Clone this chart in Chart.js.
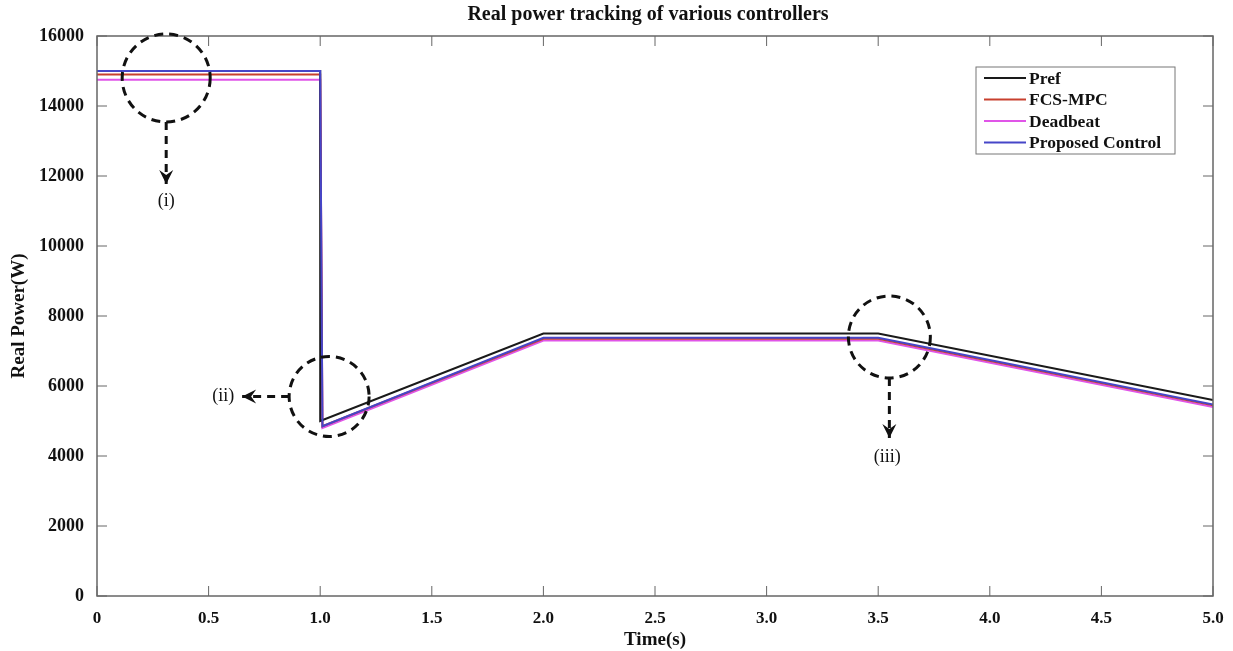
<!DOCTYPE html>
<html lang="en">
<head>
    <meta charset="UTF-8">
    <title>Real power tracking of various controllers</title>
    <script src="https://cdn.jsdelivr.net/npm/chart.js"></script>
    <style>
        body {
            margin: 0;
            padding: 0;
            background-color: #fff;
        }
        #wrap {
            width: 1233px;
            height: 651px;
        }
    </style>
</head>
<body>
    <div id="wrap"><canvas id="myChart" width="1233" height="651"></canvas></div>

    <script>
        // data
        const prefTime = [0, 1.0, 1.0, 2.0, 3.5, 5.0];
        const prefPower = [15000, 15000, 5000, 7500, 7500, 5600];

        const fcsTime = [0, 1.0, 1.01, 2.0, 3.5, 5.0];
        const fcsPower = [14900, 14900, 4850, 7350, 7350, 5450];

        const deadbeatTime = [0, 1.0, 1.01, 2.0, 3.5, 5.0];
        const deadbeatPower = [14750, 14750, 4800, 7300, 7300, 5400];

        const proposedTime = [0, 1.0, 1.01, 2.0, 3.5, 5.0];
        const proposedPower = [15000, 15000, 4850, 7380, 7380, 5470];

        const xTicks = [0, 0.5, 1.0, 1.5, 2.0, 2.5, 3.0, 3.5, 4.0, 4.5, 5.0];
        const yTicks = [0, 2000, 4000, 6000, 8000, 10000, 12000, 14000, 16000];

        // dashed circles: centre (time, power), radius in px
        const circles = [
            { t: 0.31, p: 14800, r: 44 },
            { t: 1.04, p: 5700, r: 40 },
            { t: 3.55, p: 7400, r: 41 }
        ];

        const serif = "'Liberation Serif', 'Times New Roman', serif";

        function pts(t, p) {
            return t.map((v, i) => ({ x: v, y: p[i] }));
        }

        const datasets = [
            { label: 'Pref', data: pts(prefTime, prefPower), borderColor: '#1a1a1a', order: 1 },
            { label: 'FCS-MPC', data: pts(fcsTime, fcsPower), borderColor: '#c8402e', order: 2 },
            { label: 'Deadbeat', data: pts(deadbeatTime, deadbeatPower), borderColor: '#e055e8', order: 3 },
            { label: 'Proposed Control', data: pts(proposedTime, proposedPower), borderColor: '#4646c8', order: 0 }
        ];
        datasets.forEach(d => {
            d.borderWidth = 2;
            d.pointRadius = 0;
            d.fill = false;
            d.tension = 0;
        });

        // frame, inward ticks, legend, annotations
        const decor = {
            id: 'decor',
            afterDraw(chart) {
                const c = chart.ctx;
                const a = chart.chartArea;
                const xs = chart.scales.x, ys = chart.scales.y;
                c.save();

                // title
                c.fillStyle = '#111';
                c.font = 'bold 20px ' + serif;
                c.textAlign = 'center';
                c.textBaseline = 'middle';
                c.fillText('Real power tracking of various controllers', 648, 15);

                // box + ticks
                c.strokeStyle = '#666';
                c.lineWidth = 1.5;
                c.strokeRect(a.left, a.top, a.right - a.left, a.bottom - a.top);
                c.lineWidth = 1;
                xTicks.forEach(v => {
                    const x = xs.getPixelForValue(v);
                    c.beginPath();
                    c.moveTo(x, a.bottom); c.lineTo(x, a.bottom - 10);
                    c.moveTo(x, a.top); c.lineTo(x, a.top + 10);
                    c.stroke();
                });
                yTicks.forEach(v => {
                    const y = ys.getPixelForValue(v);
                    c.beginPath();
                    c.moveTo(a.left, y); c.lineTo(a.left + 10, y);
                    c.moveTo(a.right, y); c.lineTo(a.right - 10, y);
                    c.stroke();
                });

                // legend
                const lx = 976, ly = 67, lw = 199, lh = 87;
                c.fillStyle = '#fff';
                c.fillRect(lx, ly, lw, lh);
                c.strokeStyle = '#777';
                c.lineWidth = 1;
                c.strokeRect(lx, ly, lw, lh);
                c.font = 'bold 17.5px ' + serif;
                c.textAlign = 'left';
                datasets.forEach((d, i) => {
                    const y = ly + 11 + i * 21.5;
                    c.strokeStyle = d.borderColor;
                    c.lineWidth = 2;
                    c.beginPath();
                    c.moveTo(lx + 8, y); c.lineTo(lx + 50, y);
                    c.stroke();
                    c.fillStyle = '#111';
                    c.fillText(d.label, lx + 53, y + 1);
                });

                // dashed circles
                c.strokeStyle = '#111';
                c.lineWidth = 3;
                c.setLineDash([9, 6]);
                const cp = circles.map(o => ({ x: xs.getPixelForValue(o.t), y: ys.getPixelForValue(o.p), r: o.r }));
                cp.forEach(o => {
                    c.beginPath();
                    c.arc(o.x, o.y, o.r, 0, Math.PI * 2);
                    c.stroke();
                });

                // dashed arrows
                function arrow(x1, y1, x2, y2) {
                    c.setLineDash([8, 6]);
                    c.beginPath();
                    c.moveTo(x1, y1); c.lineTo(x2, y2);
                    c.stroke();
                    c.setLineDash([]);
                    const ang = Math.atan2(y2 - y1, x2 - x1);
                    c.fillStyle = '#111';
                    c.beginPath();
                    c.moveTo(x2, y2);
                    c.lineTo(x2 - 14 * Math.cos(ang) + 7 * Math.sin(ang), y2 - 14 * Math.sin(ang) - 7 * Math.cos(ang));
                    c.lineTo(x2 - 9 * Math.cos(ang), y2 - 9 * Math.sin(ang));
                    c.lineTo(x2 - 14 * Math.cos(ang) - 7 * Math.sin(ang), y2 - 14 * Math.sin(ang) + 7 * Math.cos(ang));
                    c.closePath();
                    c.fill();
                }
                arrow(cp[0].x, cp[0].y + cp[0].r, cp[0].x, cp[0].y + cp[0].r + 62);
                arrow(cp[1].x - cp[1].r, cp[1].y, cp[1].x - cp[1].r - 47, cp[1].y);
                arrow(cp[2].x, cp[2].y + cp[2].r, cp[2].x, cp[2].y + cp[2].r + 60);

                c.font = '18px ' + serif;
                c.fillStyle = '#111';
                c.textAlign = 'center';
                c.textBaseline = 'middle';
                c.fillText('(i)', cp[0].x, cp[0].y + cp[0].r + 79);
                c.fillText('(ii)', cp[1].x - cp[1].r - 66, cp[1].y);
                c.fillText('(iii)', cp[2].x - 2, cp[2].y + cp[2].r + 79);

                c.restore();
            }
        };

        var ctx = document.getElementById('myChart').getContext('2d');
        var myChart = new Chart(ctx, {
            type: 'line',
            data: { datasets: datasets },
            options: {
                responsive: false,
                animation: false,
                layout: { padding: { top: 36, right: 20, left: 0, bottom: 0 } },
                plugins: {
                    legend: { display: false },
                    tooltip: { enabled: false }
                },
                scales: {
                    x: {
                        type: 'linear',
                        min: 0,
                        max: 5,
                        afterFit: s => { s.height = 55; s.paddingRight = 0; },
                        afterBuildTicks: s => { s.ticks = xTicks.map(v => ({ value: v })); },
                        grid: { display: false, drawTicks: false },
                        border: { display: false },
                        ticks: {
                            color: '#111',
                            padding: 12,
                            maxRotation: 0,
                            font: { family: serif, size: 17, weight: 'bold' },
                            callback: v => v === 0 ? '0' : v.toFixed(1)
                        },
                        title: {
                            display: true,
                            text: 'Time(s)',
                            color: '#111',
                            padding: { top: 0, bottom: 0 },
                            font: { family: serif, size: 19, weight: 'bold' }
                        }
                    },
                    y: {
                        min: 0,
                        max: 16000,
                        afterFit: s => { s.width = 97; },
                        afterBuildTicks: s => { s.ticks = yTicks.map(v => ({ value: v })); },
                        grid: { display: false, drawTicks: false },
                        border: { display: false },
                        ticks: {
                            color: '#111',
                            padding: 13,
                            font: { family: serif, size: 18, weight: 'bold' },
                            callback: v => String(v)
                        },
                        title: {
                            display: true,
                            text: 'Real Power(W)',
                            color: '#111',
                            padding: { top: 8, bottom: 0 },
                            font: { family: serif, size: 19, weight: 'bold' }
                        }
                    }
                }
            },
            plugins: [decor]
        });
    </script>
</body>
</html>
